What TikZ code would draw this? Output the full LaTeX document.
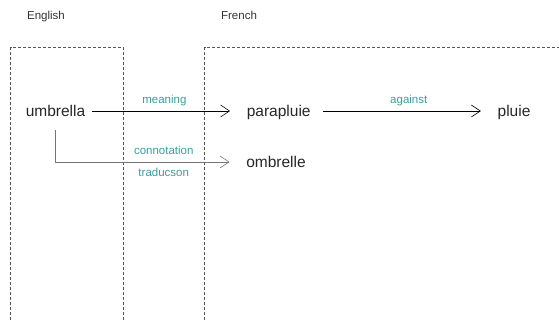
\documentclass[tikz,border=0pt]{standalone}
\usepackage{fontspec}
\setmainfont{Liberation Sans}
\usepackage{xcolor}
\usetikzlibrary{arrows.meta}
\usetikzlibrary{positioning}

\definecolor{labelteal}{HTML}{3A9E9E}
\definecolor{boxgray}{HTML}{555555}
\definecolor{linkgray}{HTML}{767676}

\tikzset{
  word/.style={anchor=base, inner sep=0pt, text height=11pt, text depth=0pt,
               font=\fontsize{15.5}{18}\selectfont, text=black!85},
  lang/.style={anchor=base, inner sep=0pt, font=\fontsize{11.5}{13}\selectfont, text=black!80},
  linklabel/.style={inner sep=2pt, text height=8.5pt, text depth=2.5pt,
                    font=\fontsize{11.5}{13}\selectfont, text=labelteal},
  link/.style={-{Straight Barb[length=9pt, width=12pt]}, line width=0.6pt,
               shorten <=7pt, shorten >=16.5pt},
  langbox/.style={boxgray, line width=0.6pt, dash pattern=on 3pt off 2pt}
}

\begin{document}
\begin{tikzpicture}[x=1pt, y=-1pt]
                      \useasboundingbox (0,0) rectangle (559,320);

                      \draw[langbox] (10.5,320) -- (10.5,47.5) -- (123.5,47.5) -- (123.5,320);
                      \draw[langbox] (204.5,320) -- (204.5,47.5) -- (560,47.5);

                      \node[lang] (english) at (46, 19.5) {English};
                      \node[lang] (french) at (239, 19.5) {French};

                      \node[word] (umbrella) at (55.5, 116.5) {umbrella};
                      \node[word] (parapluie) at (278.7, 116.5) {parapluie};
                      \node[word] (pluie) at (514, 116.5) {pluie};
                      \node[word] (ombrelle) at (276, 167.5) {ombrelle};

                      %Links
                      \draw[link] (umbrella) -- (parapluie)
                        node[linklabel, pos=0.49, above=3pt] (meaning) {meaning};
                      \draw[link, shorten <=12.5pt] (parapluie) -- (pluie)
                        node[linklabel, pos=0.525, above=3pt] (against) {against};
                      \draw[link, linkgray, shorten <=13.5pt] (umbrella.south) |- (ombrelle)
                        node[linklabel, pos=0.784, above=3pt] (connotation) {connotation}
                        node[linklabel, pos=0.784, below=4pt] (traducson) {traducson};
                    \end{tikzpicture}
\end{document}
